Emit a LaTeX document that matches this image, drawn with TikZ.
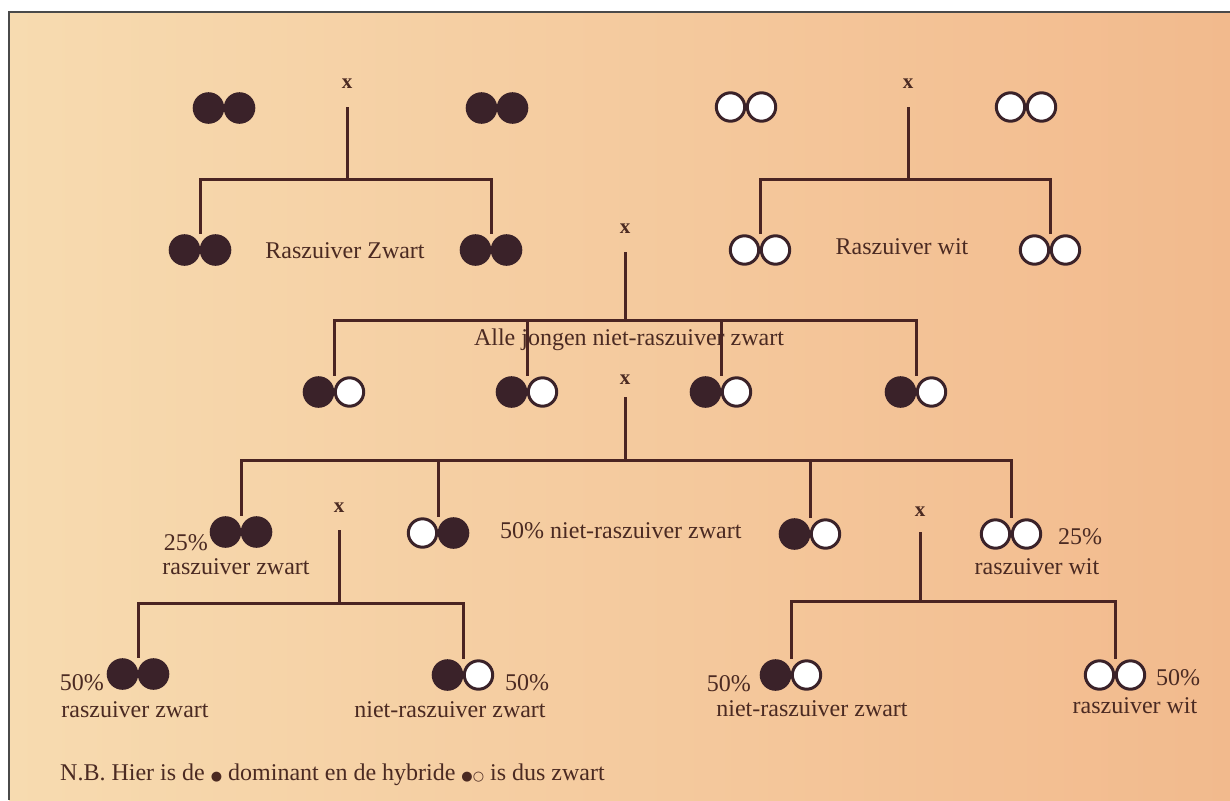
\documentclass[tikz,border=0pt]{standalone}
\usepackage{fontspec}
\setmainfont{Liberation Serif}
\newfontfamily\symf{DejaVu Sans}
\definecolor{bgl}{HTML}{F7DBB0}
\definecolor{bgm}{HTML}{F3C295}
\definecolor{bgr}{HTML}{F2BA8D}
\definecolor{lnc}{HTML}{4A2422}
\definecolor{dk}{HTML}{3A2229}
\definecolor{txc}{HTML}{4B2A22}
\definecolor{frc}{HTML}{4A4A4A}
\newcommand\drBB[1]{\fill[dk] ([xshift=-15.5pt]#1.center) circle (15.8pt); \fill[dk] ([xshift=15.5pt]#1.center) circle (15.8pt);}
\newcommand\drWW[1]{\draw[dk, fill=white, line width=3pt] ([xshift=-15.5pt]#1.center) circle (14.2pt); \draw[dk, fill=white, line width=3pt] ([xshift=15.5pt]#1.center) circle (14.2pt);}
\newcommand\drBW[1]{\fill[dk] ([xshift=-15.5pt]#1.center) circle (15.8pt); \draw[dk, fill=white, line width=3pt] ([xshift=15.5pt]#1.center) circle (14.2pt);}
\newcommand\drWB[1]{\fill[dk] ([xshift=15.5pt]#1.center) circle (15.8pt); \draw[dk, fill=white, line width=3pt] ([xshift=-15.5pt]#1.center) circle (14.2pt);}
\begin{document}
\begin{tikzpicture}[x=1pt,y=-1pt,
  ln/.style={draw=lnc, line width=3pt, line join=miter},
  pairbox/.style={inner sep=0pt, minimum width=62pt, minimum height=32pt},
  lbl/.style={text=txc, font=\fontsize{24}{26}\selectfont, inner sep=0pt},
  xl/.style={text=txc, font=\fontsize{21}{23}\selectfont\bfseries, inner sep=0pt},
]
\useasboundingbox (0,0) rectangle (1230,800);
\fill[white] (0,0) rectangle (1230,800);
\shade[left color=bgl, middle color=bgm, right color=bgr] (9,12) rectangle (1230,800);
\draw[frc, line width=2.5pt] (9,800) -- (9,12) -- (1230,12);

% ---------- pairs ----------
\node[pairbox] (p1) at (224,108) {};
\node[pairbox] (p2) at (497,108) {};
\node[pairbox] (p3) at (746,107) {};
\node[pairbox] (p4) at (1026,107) {};
\node[pairbox] (c1) at (200,250) {};
\node[pairbox] (c2) at (491,250) {};
\node[pairbox] (c3) at (760,250) {};
\node[pairbox] (c4) at (1050,250) {};
\node[pairbox] (f1) at (334,392) {};
\node[pairbox] (f2) at (527,392) {};
\node[pairbox] (f3) at (721,392) {};
\node[pairbox] (f4) at (916,392) {};
\node[pairbox] (g1) at (241,532) {};
\node[pairbox] (g2) at (438,533) {};
\node[pairbox] (g3) at (810,534) {};
\node[pairbox] (g4) at (1011,534) {};
\node[pairbox] (h1) at (138,674) {};
\node[pairbox] (h2) at (463,675) {};
\node[pairbox] (h3) at (791,675) {};
\node[pairbox] (h4) at (1115,675) {};

% ---------- crosses ----------
\node[xl] (x1) at (347,84) {x};
\node[xl] (x2) at (908,84) {x};
\node[xl] (x3) at (625,229) {x};
\node[xl] (x4) at (625,380) {x};
\node[xl] (x5) at (339,508) {x};
\node[xl] (x6) at (920,512) {x};

% ---------- bar levels ----------
\coordinate (b1) at (347,179);
\coordinate (b2) at (908,179);
\coordinate (b3) at (625,320);
\coordinate (b4) at (625,460);
\coordinate (b5) at (339,603);
\coordinate (b6) at (920,601);

% ---------- labels ----------
\node[lbl] (t1) at (345,251) {Raszuiver Zwart};
\node[lbl] (t2) at (902,247) {Raszuiver wit};
\node[lbl] (t3) at (629,340) {Alle jongen niet-raszuiver zwart};
\node[lbl, anchor=east] (t4) at (208,543) {25\%};
\node[lbl] (t5) at (236,567) {raszuiver zwart};
\node[lbl, anchor=west] (t6) at (500,531) {50\% niet-raszuiver zwart};
\node[lbl, anchor=west] (t7) at (1058,537) {25\%};
\node[lbl] (t8) at (1037,567) {raszuiver wit};
\node[lbl, anchor=east] (t9) at (104,683) {50\%};
\node[lbl] (t10) at (135,710) {raszuiver zwart};
\node[lbl, anchor=west] (t11) at (505,683) {50\%};
\node[lbl] (t12) at (450,710) {niet-raszuiver zwart};
\node[lbl, anchor=east] (t13) at (751,684) {50\%};
\node[lbl] (t14) at (812,709) {niet-raszuiver zwart};
\node[lbl, anchor=west] (t15) at (1156,678) {50\%};
\node[lbl] (t16) at (1135,706) {raszuiver wit};
\node[lbl, anchor=west] (nb) at (60,775) {N.B. Hier is de {\symf\fontsize{13}{14}\selectfont ●} dominant en de hybride {\symf\fontsize{13}{14}\selectfont ●○} is dus zwart};

% ---------- connectors ----------
\draw[ln] ([yshift=-23pt]x1.center) -- (b1);
\draw[ln] (c1.north) -- (c1.north |- b1) -- (c2.north |- b1) -- (c2.north);
\draw[ln] ([yshift=-23pt]x2.center) -- (b2);
\draw[ln] (c3.north) -- (c3.north |- b2) -- (c4.north |- b2) -- (c4.north);
\draw[ln] ([yshift=-23pt]x3.center) -- (b3);
\draw[ln] (f1.north) -- (f1.north |- b3) -- (f4.north |- b3) -- (f4.north);
\draw[ln] (f2.north) -- (f2.north |- b3);
\draw[ln] (f3.north) -- (f3.north |- b3);
\draw[ln] ([yshift=-17pt]x4.center) -- (b4);
\draw[ln] (g1.north) -- (g1.north |- b4) -- (g4.north |- b4) -- (g4.north);
\draw[ln] (g2.north) -- (g2.north |- b4);
\draw[ln] (g3.north) -- (g3.north |- b4);
\draw[ln] ([yshift=-22pt]x5.center) -- (b5);
\draw[ln] (h1.north) -- (h1.north |- b5) -- (h2.north |- b5) -- (h2.north);
\draw[ln] ([yshift=-20pt]x6.center) -- (b6);
\draw[ln] (h3.north) -- (h3.north |- b6) -- (h4.north |- b6) -- (h4.north);

% ---------- circles ----------
\drBB{p1} \drBB{p2} \drWW{p3} \drWW{p4}
\drBB{c1} \drBB{c2} \drWW{c3} \drWW{c4}
\drBW{f1} \drBW{f2} \drBW{f3} \drBW{f4}
\drBB{g1} \drWB{g2} \drBW{g3} \drWW{g4}
\drBB{h1} \drBW{h2} \drBW{h3} \drWW{h4}
\end{tikzpicture}
\end{document}
